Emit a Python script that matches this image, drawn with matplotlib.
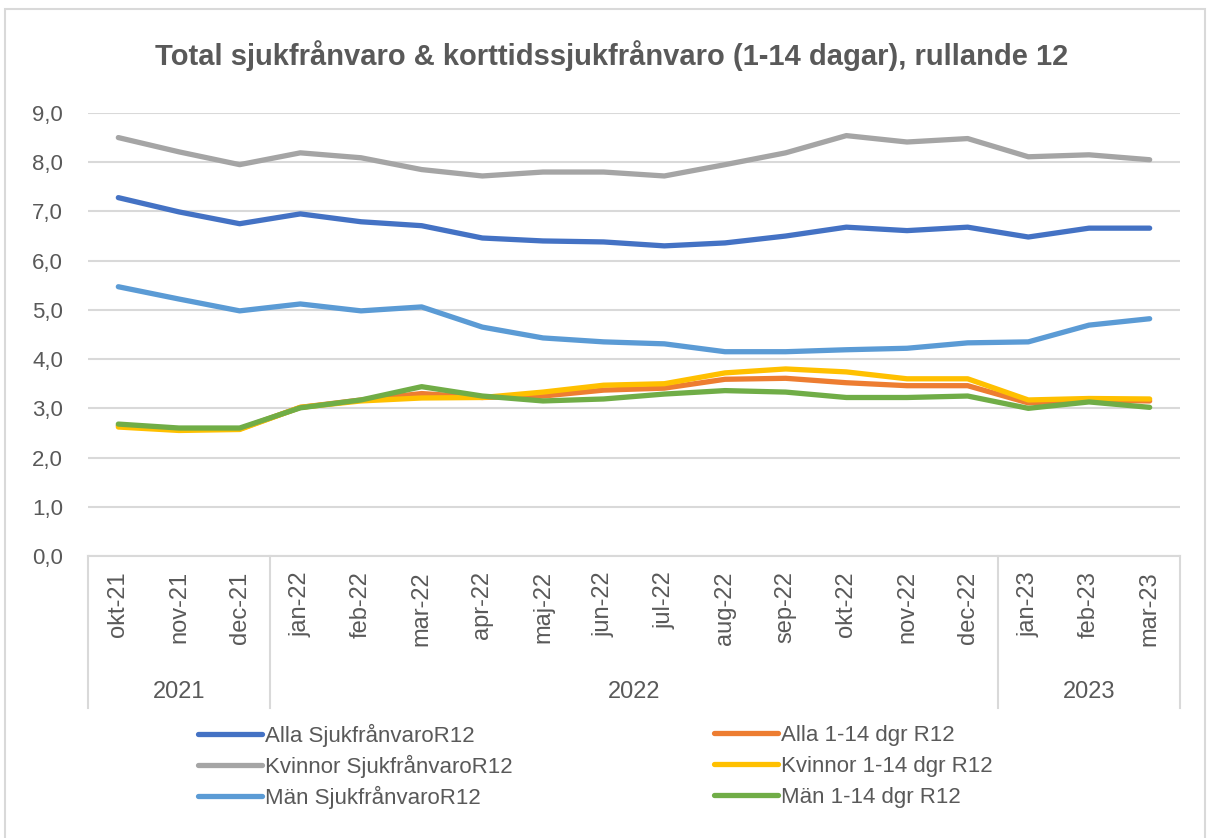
import numpy as np
import matplotlib
matplotlib.use("Agg")
import matplotlib.pyplot as plt
import matplotlib.transforms as mtransforms

# ================================
# DATA
# ================================
months = ["okt-21", "nov-21", "dec-21", "jan-22", "feb-22", "mar-22", "apr-22",
          "maj-22", "jun-22", "jul-22", "aug-22", "sep-22", "okt-22", "nov-22",
          "dec-22", "jan-23", "feb-23", "mar-23"]
years = ["2021", "2022", "2023"]
year_counts = [3, 12, 3]

alla_sjuk = [7.28, 6.99, 6.75, 6.95, 6.79, 6.71, 6.46, 6.40, 6.38, 6.30, 6.36,
             6.50, 6.68, 6.61, 6.68, 6.48, 6.66, 6.66]
kvinnor_sjuk = [8.50, 8.21, 7.95, 8.19, 8.09, 7.85, 7.72, 7.80, 7.80, 7.72, 7.95,
                8.19, 8.54, 8.41, 8.48, 8.11, 8.15, 8.05]
man_sjuk = [5.47, 5.22, 4.98, 5.12, 4.98, 5.06, 4.65, 4.43, 4.35, 4.31, 4.15,
            4.15, 4.19, 4.22, 4.33, 4.35, 4.69, 4.82]
alla_kort = [2.65, 2.57, 2.58, 3.02, 3.17, 3.30, 3.22, 3.25, 3.37, 3.41, 3.59,
             3.61, 3.52, 3.46, 3.46, 3.11, 3.17, 3.15]
kvinnor_kort = [2.62, 2.55, 2.57, 3.02, 3.15, 3.21, 3.22, 3.33, 3.47, 3.50, 3.72,
                3.80, 3.74, 3.60, 3.60, 3.17, 3.20, 3.19]
man_kort = [2.68, 2.60, 2.60, 3.01, 3.17, 3.44, 3.25, 3.15, 3.19, 3.29, 3.36,
            3.33, 3.22, 3.22, 3.25, 3.00, 3.13, 3.02]

# ================================
# FIGURE
# ================================
plt.rcParams["font.family"] = ["Liberation Sans", "DejaVu Sans"]
TXT = "#595959"
GRID = "#D9D9D9"

fig = plt.figure(figsize=(12.12, 8.38), dpi=100)
ax = fig.add_axes([0.0726, 0.3365, 0.9010, 0.5287])

x = np.arange(len(months))
series = [
    (alla_sjuk, "#4472C4", "Alla SjukfrånvaroR12"),
    (alla_kort, "#ED7D31", "Alla 1-14 dgr R12"),
    (kvinnor_sjuk, "#A5A5A5", "Kvinnor SjukfrånvaroR12"),
    (kvinnor_kort, "#FFC000", "Kvinnor 1-14 dgr R12"),
    (man_sjuk, "#5B9BD5", "Män SjukfrånvaroR12"),
    (man_kort, "#70AD47", "Män 1-14 dgr R12"),
]
handles = {}
for vals, col, lab in series:
    ln, = ax.plot(x, vals, color=col, lw=3.8, solid_capstyle="round",
                  solid_joinstyle="round", label=lab)
    handles[lab] = ln

ax.set_xlim(-0.5, len(months) - 0.5)
ax.set_ylim(0, 9)
ax.set_yticks(np.arange(0, 10, 1))
ax.set_yticklabels([f"{v:.1f}".replace(".", ",") for v in range(10)])
ax.yaxis.grid(True, color=GRID, lw=1.5)
ax.set_axisbelow(True)
for s in ["top", "right", "left"]:
    ax.spines[s].set_visible(False)
ax.spines["bottom"].set_color(GRID)
ax.spines["bottom"].set_linewidth(1.5)
ax.tick_params(axis="y", length=0, pad=18, labelsize=16, labelcolor=TXT)

ax.set_xticks(x)
ax.set_xticklabels(months, rotation=90, fontsize=17, color=TXT)
ax.tick_params(axis="x", length=0, pad=11)

# ---- year group axis ----
trans = mtransforms.blended_transform_factory(ax.transData, ax.transAxes)
edges = [-0.5]
for n in year_counts:
    edges.append(edges[-1] + n)
for e in edges:
    ax.plot([e, e], [0, -0.342], transform=trans, color=GRID, lw=1.5, clip_on=False)
for i, yr in enumerate(years):
    ax.text((edges[i] + edges[i + 1]) / 2, -0.307, yr, transform=trans,
            ha="center", va="center", fontsize=17, color=TXT)

# ---- title ----
fig.text(0.505, 0.934, "Total sjukfrånvaro & korttidssjukfrånvaro (1-14 dagar), rullande 12",
         ha="center", va="center", fontsize=21, fontweight="bold", color=TXT)

# ---- legend: one entry per slot so rows line up across both columns ----
order = ["Alla SjukfrånvaroR12", "Kvinnor SjukfrånvaroR12", "Män SjukfrånvaroR12",
         "Alla 1-14 dgr R12", "Kvinnor 1-14 dgr R12", "Män 1-14 dgr R12"]
for i, lab in enumerate(order):
    col, row = divmod(i, 3)
    xpos = (198 if col == 0 else 714) / 1212
    ypos = 1 - (735 + row * 31) / 838
    fig.legend([handles[lab]], [lab], loc="center left",
               bbox_to_anchor=(xpos, ypos), frameon=False,
               fontsize=16, handlelength=2.9, handletextpad=0.12,
               borderpad=0, borderaxespad=0, labelcolor=TXT)

# ---- chart border ----
fig.patches.append(plt.Rectangle((5 / 1212, -0.01), 1200 / 1212, 1 - 9 / 838 + 0.01,
                                 transform=fig.transFigure, fill=False,
                                 edgecolor=GRID, lw=1.5))

fig.savefig("out.png", dpi=100)
